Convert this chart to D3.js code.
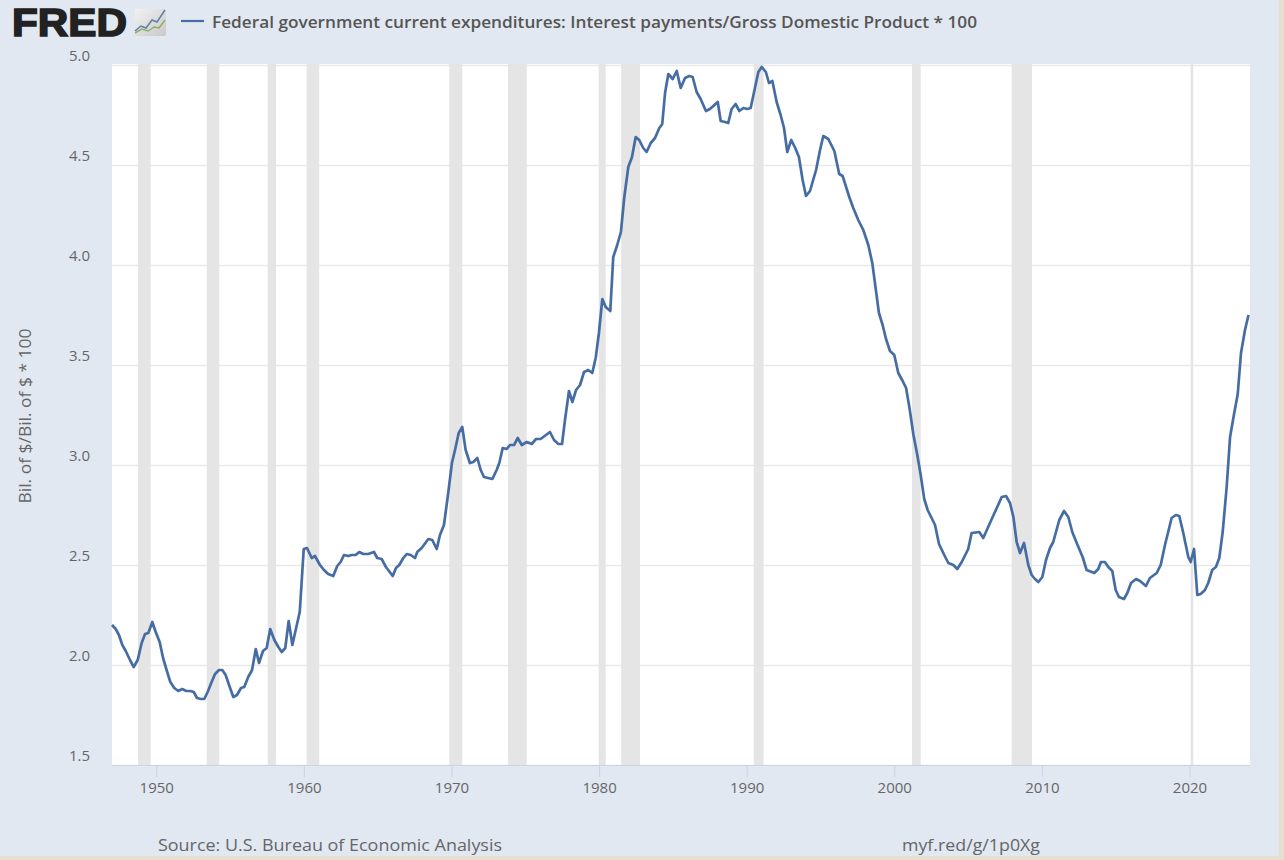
<!DOCTYPE html>
<html><head><meta charset="utf-8">
<script src="https://cdn.jsdelivr.net/npm/d3@7"></script>
<style>
html,body{margin:0;padding:0;background:#e6dfd0;overflow:hidden}
svg{display:block}
text{font-family:"Open Sans",sans-serif}
</style></head><body>
<svg id="c" width="1284" height="860"></svg>
<script>
const seriesName = "Federal government current expenditures: Interest payments/Gross Domestic Product * 100";
const yAxisTitle = "Bil. of $/Bil. of $ * 100";
const sourceText = "Source: U.S. Bureau of Economic Analysis";
const linkText = "myf.red/g/1p0Xg";
const yTicks = [1.5,2.0,2.5,3.0,3.5,4.0,4.5,5.0];
const xTicks = [1950,1960,1970,1980,1990,2000,2010,2020];
const recessionStarts = [1948.76,1953.42,1957.55,1960.19,1969.85,1973.83,1979.97,1981.50,1990.48,2001.20,2007.95,2020.08];
const recessionEnds   = [1949.62,1954.27,1958.11,1961.04,1970.73,1975.10,1980.45,1982.77,1991.15,2001.79,2009.33,2020.26];
const years = [
1947.00,1947.25,1947.47,1947.70,1947.93,1948.22,1948.47,1948.74,1949.01,1949.24,1949.46,1949.73,1949.96,
1950.23,1950.46,1950.68,1950.95,1951.22,1951.49,1951.76,1952.03,1952.30,1952.54,1952.76,1953.03,1953.25,1953.48,1953.75,1953.98,
1954.25,1954.47,1954.70,1954.93,1955.22,1955.47,1955.74,1955.96,1956.23,1956.49,1956.74,1956.96,1957.23,1957.48,1957.72,1958.00,
1958.27,1958.50,1958.74,1958.97,1959.22,1959.49,1959.72,1959.99,1960.21,1960.53,1960.75,1961.09,1961.36,1961.65,1961.99,
1962.26,1962.49,1962.72,1963.01,1963.24,1963.51,1963.75,1964.03,1964.36,1964.75,1964.97,1965.27,1965.56,1966.02,1966.24,1966.46,1966.74,1966.97,
1967.24,1967.53,1967.68,1967.98,1968.43,1968.70,1969.00,1969.22,1969.49,1969.78,1970.03,1970.24,1970.49,1970.73,1970.96,
1971.25,1971.48,1971.75,1971.98,1972.20,1972.49,1972.77,1973.06,1973.24,1973.47,1973.74,1973.96,1974.24,1974.49,1974.76,
1975.10,1975.44,1975.73,1976.04,1976.67,1976.95,1977.24,1977.49,1977.69,1977.96,1978.19,1978.44,1978.71,1978.98,1979.27,1979.54,1979.77,1979.99,
1980.22,1980.45,1980.76,1980.96,1981.23,1981.48,1981.71,1981.98,1982.23,1982.48,1982.72,1982.99,1983.22,1983.50,1983.79,1984.08,1984.28,1984.47,1984.69,1984.99,
1985.26,1985.53,1985.82,1986.11,1986.34,1986.61,1986.88,1987.24,1987.51,1988.04,1988.24,1988.53,1988.75,1988.98,1989.25,1989.50,1989.77,
1990.04,1990.27,1990.56,1990.79,1991.02,1991.30,1991.51,1991.74,1992.03,1992.30,1992.53,1992.75,1993.02,1993.29,1993.54,1993.79,1994.02,1994.29,1994.70,1994.97,
1995.19,1995.53,1995.94,1996.27,1996.50,1996.95,1997.22,1997.56,1997.90,1998.24,1998.51,1998.69,1998.96,1999.21,1999.44,1999.71,
2000.00,2000.27,2000.57,2000.80,2001.02,2001.30,2001.56,2001.79,2002.03,2002.26,2002.53,2002.76,2003.03,2003.32,2003.66,2004.00,2004.27,2004.57,
2005.01,2005.24,2005.76,2006.03,2006.30,2006.82,2007.28,2007.57,2007.84,2008.07,2008.29,2008.52,2008.79,2009.08,2009.31,2009.53,2009.76,
2010.03,2010.28,2010.55,2010.77,2011.18,2011.50,2011.79,2012.06,2012.36,2012.76,2013.03,2013.55,2013.82,2014.00,2014.27,2014.50,2014.77,
2015.00,2015.22,2015.56,2015.79,2016.04,2016.38,2016.65,2017.05,2017.32,2017.78,2018.05,2018.34,2018.79,2019.08,2019.31,2019.58,2019.92,
2020.08,2020.31,2020.53,2020.76,2021.05,2021.27,2021.54,2021.79,2022.02,2022.25,2022.52,2022.75,2023.02,2023.27,2023.49,2023.76,2024.00];
const values = [
2.20,2.18,2.15,2.10,2.07,2.025,1.99,2.025,2.11,2.155,2.16,2.215,2.165,
2.115,2.035,1.98,1.915,1.885,1.87,1.88,1.87,1.87,1.865,1.835,1.83,1.83,1.865,1.915,1.955,
1.975,1.975,1.95,1.90,1.84,1.85,1.885,1.89,1.94,1.975,2.08,2.01,2.07,2.085,2.18,2.125,
2.09,2.065,2.085,2.22,2.10,2.19,2.265,2.58,2.585,2.535,2.545,2.50,2.475,2.455,2.445,
2.495,2.515,2.55,2.545,2.55,2.55,2.565,2.555,2.555,2.565,2.535,2.53,2.49,2.445,2.485,2.50,2.535,2.555,
2.55,2.535,2.565,2.585,2.63,2.625,2.58,2.65,2.70,2.86,3.01,3.075,3.16,3.19,3.075,
3.01,3.015,3.035,2.975,2.94,2.935,2.93,2.975,3.01,3.085,3.08,3.10,3.10,3.135,3.10,
3.115,3.105,3.13,3.13,3.165,3.125,3.105,3.105,3.225,3.37,3.315,3.375,3.40,3.465,3.475,3.46,3.535,3.66,
3.83,3.79,3.77,4.04,4.10,4.165,4.34,4.49,4.54,4.64,4.625,4.585,4.565,4.61,4.635,4.685,4.705,4.86,4.955,4.93,
4.97,4.885,4.935,4.945,4.94,4.865,4.83,4.77,4.78,4.815,4.72,4.715,4.71,4.78,4.805,4.77,4.785,
4.78,4.785,4.885,4.965,4.99,4.965,4.91,4.92,4.815,4.75,4.685,4.565,4.625,4.585,4.54,4.425,4.345,4.37,4.475,4.575,
4.645,4.63,4.57,4.455,4.445,4.34,4.285,4.225,4.175,4.10,4.01,3.91,3.76,3.70,3.63,3.57,
3.55,3.46,3.42,3.385,3.29,3.15,3.05,2.95,2.83,2.775,2.735,2.70,2.605,2.56,2.51,2.50,2.48,2.515,
2.58,2.66,2.665,2.635,2.68,2.765,2.84,2.845,2.81,2.74,2.615,2.56,2.61,2.50,2.45,2.43,2.415,
2.44,2.525,2.585,2.615,2.725,2.77,2.74,2.665,2.61,2.54,2.475,2.46,2.48,2.515,2.515,2.49,2.47,
2.375,2.34,2.33,2.36,2.41,2.43,2.42,2.395,2.435,2.46,2.50,2.60,2.735,2.75,2.745,2.66,2.54,
2.515,2.58,2.35,2.355,2.375,2.41,2.475,2.49,2.535,2.665,2.89,3.14,3.255,3.355,3.56,3.675,3.75];

const svg = d3.select("#c");
const pL=112,pR=1250,pT=65,pB=765;
const x = d3.scaleLinear().domain([1947,1947+(pR-pL)/14.76]).range([pL,pR]);
const y = d3.scaleLinear().domain([1.5,5]).range([pB,pT]);
const textCol="#666", lineCol="#466da3";

svg.append("rect").attr("width",1279).attr("height",856).attr("fill","#e1e8f1");
svg.append("rect").attr("x",pL).attr("y",pT-1).attr("width",pR-pL).attr("height",pB-pT+1).attr("fill","#fff");

// y axis (gridlines + labels above the line)
const gy = svg.append("g").attr("transform",`translate(${pL},0)`)
  .call(d3.axisLeft(y).tickValues(yTicks).tickFormat(d3.format(".1f")).tickSize(-(pR-pL)));
gy.select(".domain").remove();
gy.selectAll("line").attr("stroke","#e9e9e9").attr("stroke-width",1.4);
gy.selectAll("text").attr("x",-22).attr("dy",null).attr("y",-9).attr("dominant-baseline","middle")
  .attr("fill",textCol).style("font-size","15px").style("font-family",'"Open Sans",sans-serif');

// recession bands
svg.append("g").selectAll("rect").data(recessionStarts).join("rect")
  .attr("x",d=>x(d)).attr("y",pT-1)
  .attr("width",(d,i)=>x(recessionEnds[i])-x(d)).attr("height",pB-pT+1)
  .attr("fill","#e5e5e5");

// x axis
const gx = svg.append("g").attr("transform",`translate(0,${pB})`)
  .call(d3.axisBottom(x).tickValues(xTicks).tickFormat(d3.format("d")).tickSize(12).tickPadding(5));
gx.select(".domain").attr("stroke","#c8d4e6").attr("stroke-width",1.2).attr("d",`M${pL},0.5H${pR}`);
gx.selectAll("line").attr("stroke","#c8d4e6");
gx.selectAll("text").attr("fill",textCol).style("font-size","15px").style("font-family",'"Open Sans",sans-serif');

// series
svg.append("path").datum(d3.range(years.length))
  .attr("fill","none").attr("stroke",lineCol).attr("stroke-width",2.7).attr("stroke-linejoin","round")
  .attr("d",d3.line().x(i=>x(years[i])).y(i=>y(values[i])));

// axis title & footer
svg.append("text").attr("transform","translate(31,416) rotate(-90)").attr("text-anchor","middle")
  .attr("fill",textCol).style("font-size","16.5px").attr("textLength",175).attr("lengthAdjust","spacingAndGlyphs").text(yAxisTitle);
svg.append("text").attr("x",158).attr("y",851).attr("fill",textCol).style("font-size","17px").attr("textLength",344).attr("lengthAdjust","spacingAndGlyphs").text(sourceText);
svg.append("text").attr("x",902).attr("y",851).attr("fill",textCol).style("font-size","17px").attr("textLength",138).attr("lengthAdjust","spacingAndGlyphs").text(linkText);

// header
svg.append("text").attr("x",12).attr("y",36).attr("fill","#222")
  .style("font-family",'"Liberation Sans",sans-serif').style("font-weight",700).style("font-size","39px")
  .attr("stroke","#222").attr("stroke-width",1.6)
  .attr("textLength",115).attr("lengthAdjust","spacingAndGlyphs").text("FRED");
const defs=svg.append("defs").append("linearGradient").attr("id","ic").attr("x1",0).attr("y1",0).attr("x2",1).attr("y2",1);
defs.append("stop").attr("offset",0).attr("stop-color","#f2f2f2");
defs.append("stop").attr("offset",1).attr("stop-color","#c9c9c9");
svg.append("rect").attr("x",135).attr("y",9).attr("width",31).attr("height",27).attr("rx",2).attr("fill","url(#ic)");
svg.append("path").attr("d","M135,31L141,26L146,28L152,20L157,22L165,10").attr("fill","none").attr("stroke","#5b7fa8").attr("stroke-width",1.5);
svg.append("path").attr("d","M135,33L142,29L148,31L154,27L159,28L165,20").attr("fill","none").attr("stroke","#8fae6a").attr("stroke-width",1.5);
svg.append("line").attr("x1",181).attr("x2",204).attr("y1",21).attr("y2",21).attr("stroke",lineCol).attr("stroke-width",2.2);
svg.append("text").attr("x",212).attr("y",28).attr("fill","#555").style("font-size","16.5px").style("font-weight",600)
  .attr("textLength",765).attr("lengthAdjust","spacingAndGlyphs").text(seriesName);
</script></body></html>
